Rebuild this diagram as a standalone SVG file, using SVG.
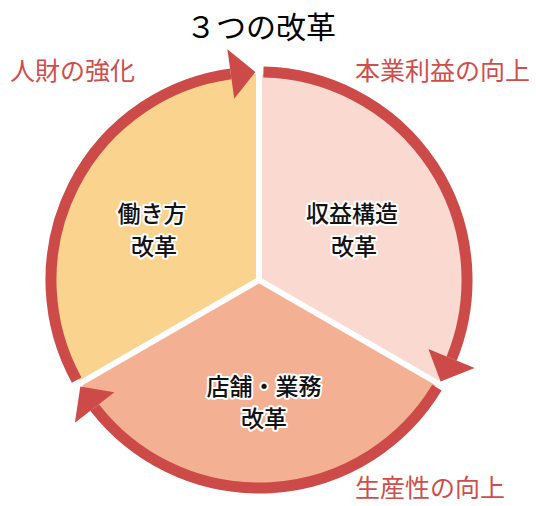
<svg xmlns="http://www.w3.org/2000/svg" width="536" height="506" viewBox="0 0 536 506">
  <style>
    .t { font-family: "Noto Sans CJK JP", "Noto Sans", sans-serif; }
    .title { font-size: 30px; fill: #000; text-anchor: middle; }
    .in { font-size: 23px; font-weight: 500; fill: #111; text-anchor: middle; stroke: #fff; stroke-width: 4px; stroke-linejoin: round; paint-order: stroke fill; }
    .out { font-size: 25px; fill: #CF4D4A; }
    .ring { fill: none; stroke: #CC4B48; stroke-width: 11; stroke-linecap: butt; }
    .head { fill: #CC4B48; }
    .div { stroke: #fff; stroke-width: 6; }
  </style>
  <rect width="536" height="506" fill="#fff"/>
  <text class="t title" x="261" y="38">３つの改革</text>

  <g id="node-hatarakikata">
    <path d="M259,280 L80.6,383 A206,206 0 0 1 259,74 Z" fill="#FAD48E"/>
    <text class="t in" x="152" y="222">働き方</text>
    <text class="t in" x="154" y="255">改革</text>
  </g>
  <g id="node-shuueki">
    <path d="M259,280 L259,74 A206,206 0 0 1 437.4,383 Z" fill="#FADAD0"/>
    <text class="t in" x="352" y="222">収益構造</text>
    <text class="t in" x="354" y="255">改革</text>
  </g>
  <g id="node-tenpo">
    <path d="M259,280 L437.4,383 A206,206 0 0 1 80.6,383 Z" fill="#F4B092"/>
    <text class="t in" x="264" y="395">店舗・業務</text>
    <text class="t in" x="264" y="427">改革</text>
  </g>

  <g id="dividers">
    <line class="div" x1="259" y1="280" x2="259" y2="66"/>
    <line class="div" x1="259" y1="280" x2="444.3" y2="387"/>
    <line class="div" x1="259" y1="280" x2="73.7" y2="387"/>
  </g>

  <g id="connectors">
    <path class="ring" d="M76.7,380.2 A208,208 0 0 1 230.8,73.9"/>
    <polygon class="head" points="227.4,49.2 255.4,72 234.2,98.7"/>
    <path class="ring" d="M263.4,72.05 A208,208 0 0 1 451.6,358.6"/>
    <polygon class="head" points="474.7,368 440.6,381.5 428.4,349.1"/>
    <path class="ring" d="M436.9,387.7 A208,208 0 0 1 94.6,407.5"/>
    <polygon class="head" points="114.4,392.2 80.3,386.5 74.9,422.8"/>
  </g>

  <g id="labels">
    <text class="t out" x="10" y="80">人財の強化</text>
    <text class="t out" x="355" y="80">本業利益の向上</text>
    <text class="t out" x="355" y="497">生産性の向上</text>
  </g>
</svg>
